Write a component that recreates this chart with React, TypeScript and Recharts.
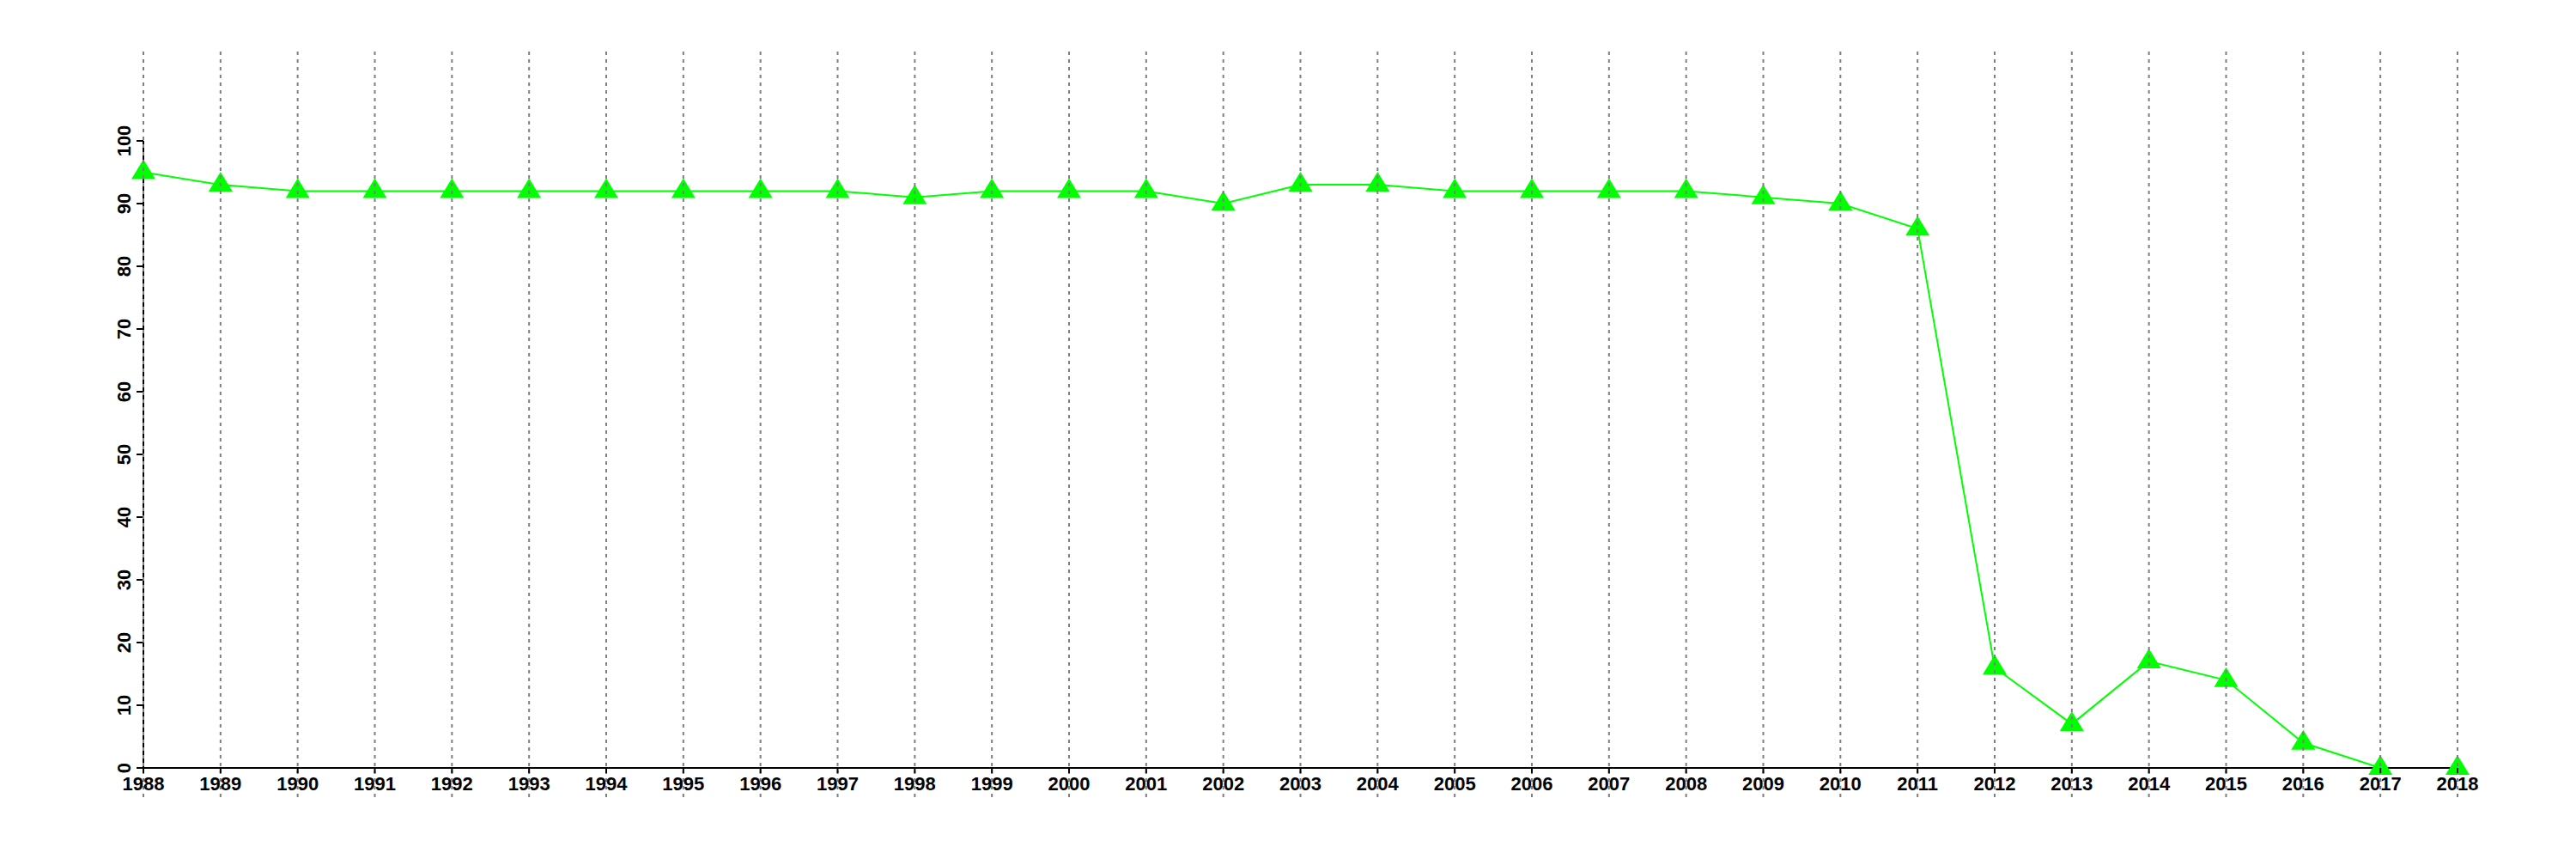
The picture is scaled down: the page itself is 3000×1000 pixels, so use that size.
import { Line, LineChart, XAxis, YAxis } from 'recharts';

const years = [
    1988, 1989, 1990, 1991, 1992, 1993, 1994, 1995, 1996, 1997, 1998, 1999, 2000, 2001, 2002, 2003,
    2004, 2005, 2006, 2007, 2008, 2009, 2010, 2011, 2012, 2013, 2014, 2015, 2016, 2017, 2018,
];
const values = [
    95, 93, 92, 92, 92, 92, 92, 92, 92, 92, 91, 92, 92, 92, 90, 93,
    93, 92, 92, 92, 92, 91, 90, 86, 16, 7, 17, 14, 4, 0, 0,
];
const yTicks = [0, 10, 20, 30, 40, 50, 60, 70, 80, 90, 100];

const data = years.map((year, i) => ({ year, value: values[i] }));

const FONT = '"Liberation Sans", Arial, sans-serif';

// x tick: label plus the dashed grid line, which runs past the plot on both ends
const XTick = (props: any) => {
    const { x, payload } = props;
    return (
        <g>
            <line x1={x} x2={x} y1={60} y2={928} stroke="#7f7f7f" strokeWidth={2} strokeDasharray="4 5" />
            <line x1={x} x2={x} y1={894} y2={900} stroke="#000" strokeWidth={2} />
            <text x={x} y={920} textAnchor="middle" fontFamily={FONT} fontWeight="bold" fontSize={22} fill="#000">
                {payload.value}
            </text>
        </g>
    );
};

const YTick = (props: any) => {
    const { y, payload } = props;
    return (
        <text
            x={152}
            y={y}
            transform={`rotate(-90 152 ${y})`}
            textAnchor="middle"
            fontFamily={FONT}
            fontWeight="bold"
            fontSize={22}
            fill="#000"
        >
            {payload.value}
        </text>
    );
};

const Triangle = (props: any) => {
    const { cx, cy } = props;
    if (cx == null || cy == null) return null;
    return <path d={`M${cx},${cy - 15} L${cx + 14},${cy + 8} L${cx - 14},${cy + 8} Z`} fill="#00ff00" />;
};

export default function App() {
    return (
        <div style={{ position: 'absolute', left: 0, top: 0, width: 3000, height: 1000, background: '#fff' }}>
            <LineChart
                width={3000}
                height={1000}
                data={data}
                margin={{ top: 164, right: 138, bottom: 66, left: 107 }}
            >
                <XAxis
                    dataKey="year"
                    type="number"
                    domain={[1988, 2018]}
                    ticks={years}
                    interval={0}
                    height={40}
                    stroke="#000"
                    strokeWidth={2}
                    tickLine={false}
                    tick={<XTick />}
                />
                <YAxis
                    type="number"
                    domain={[0, 100]}
                    ticks={yTicks}
                    interval={0}
                    width={60}
                    stroke="#000"
                    strokeWidth={2}
                    tickSize={8}
                    tickLine={{ stroke: '#000', strokeWidth: 2 }}
                    tick={<YTick />}
                />
                <Line
                    dataKey="value"
                    stroke="#00ff00"
                    strokeWidth={2}
                    dot={<Triangle />}
                    activeDot={false}
                    isAnimationActive={false}
                />
            </LineChart>
        </div>
    );
}
